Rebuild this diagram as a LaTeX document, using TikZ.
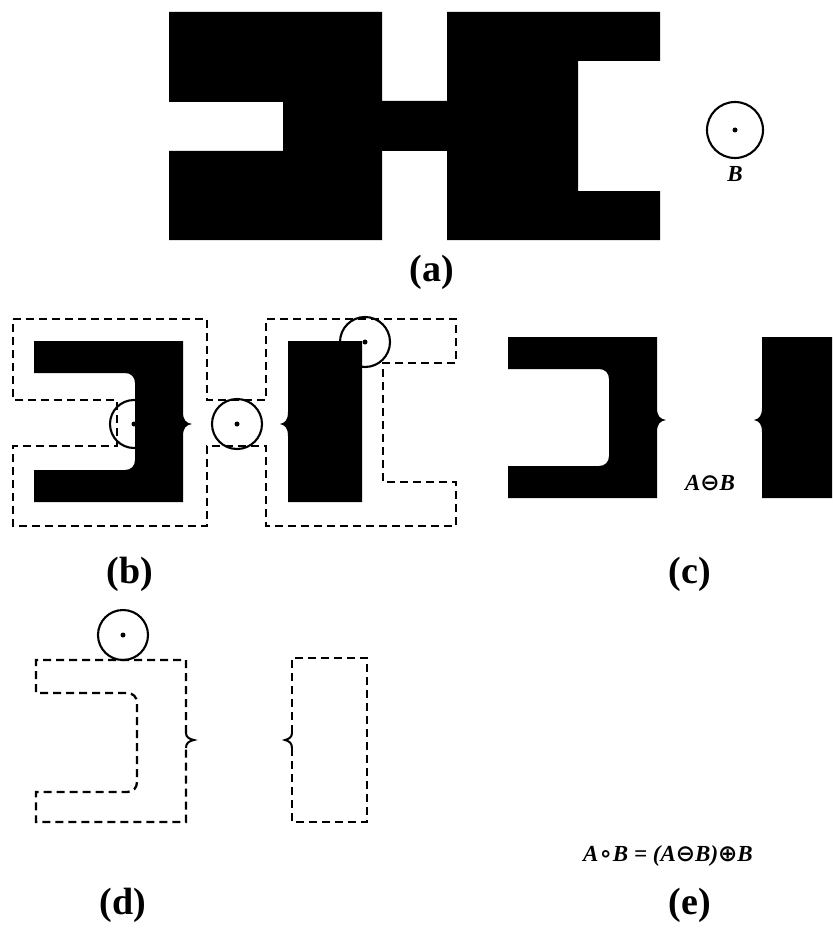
\documentclass[tikz,border=0pt]{standalone}
\usepackage{fontspec}
\setmainfont{Liberation Serif}
\newfontfamily\symf{DejaVu Sans}
\newcommand\erodedA{%
  \fill (34,341) -- (183,341) -- (183,412) .. controls (183,420) and (186,423) .. (192,424)
     .. controls (186,425) and (183,428) .. (183,436) -- (183,502) -- (34,502) -- (34,470)
     -- (125,470) .. controls (131,470) and (135,466) .. (135,460) -- (135,383)
     .. controls (135,377) and (131,373) .. (125,373) -- (34,373) -- cycle;
  \fill (288,341) -- (362,341) -- (362,502) -- (288,502) -- (288,436)
     .. controls (288,428) and (285,425) .. (280,424) .. controls (285,423) and (288,420) .. (288,412) -- cycle;
}
\newcommand\opsym[1]{{\symf\bfseries\upshape #1}}
\begin{document}
\begin{tikzpicture}[x=1pt,y=-1pt,
  dsh/.style={line width=2.3pt, dash pattern=on 8pt off 5pt},
  ring/.style={line width=2.1pt},
  cusp/.style={line width=2pt},
  lbl/.style={font=\fontsize{38}{42}\selectfont\bfseries, inner sep=0pt},
  mth/.style={font=\fontsize{23}{26}\selectfont\bfseries\itshape, inner sep=0pt}]
\useasboundingbox (0,0) rectangle (832,936);
\clip (0,0) rectangle (832,936);
\fill[white] (0,0) rectangle (832,936);

% ---------- (a) ----------
\fill (169,12) -- (382,12) -- (382,101) -- (447,101) -- (447,12) -- (660,12) -- (660,61)
  -- (578,61) -- (578,191) -- (660,191) -- (660,240) -- (447,240) -- (447,151) -- (382,151)
  -- (382,240) -- (169,240) -- (169,151) -- (283,151) -- (283,102) -- (169,102) -- cycle;
\draw[ring] (735,130) circle[radius=28];
\fill (735,130) circle[radius=2.5];
\node[mth] (Blabel) at (735,174) {B};
\node[lbl] (la) at (432,272) {(a)};

% ---------- (b) ----------
\draw[ring] (134,424) circle[radius=24];
\draw[ring] (237,424) circle[radius=25];
\draw[ring] (365,342) circle[radius=25];
\draw[dsh] (13,319) -- (207,319) -- (207,400) -- (266,400) -- (266,319) -- (456,319) -- (456,363)
  -- (383,363) -- (383,482) -- (456,482) -- (456,526) -- (266,526) -- (266,446) -- (207,446)
  -- (207,526) -- (13,526) -- (13,446) -- (117,446) -- (117,400) -- (13,400) -- cycle;
\erodedA
\fill (134,424) circle[radius=2.5];
\fill (237,424) circle[radius=2.5];
\fill (365,342) circle[radius=2.5];
\node[lbl] (lb) at (130,574) {(b)};

% ---------- (c) ----------
\begin{scope}[shift={(474,-4)}]
\erodedA
\end{scope}
\node[mth] (AeB) at (710,483) {A\opsym{⊖}B};
\node[lbl] (lc) at (690,574) {(c)};

% ---------- (d) ----------
\draw[ring] (123,635) circle[radius=25];
\fill (123,635) circle[radius=2.5];
\draw[dsh] (186,733) -- (186,660) -- (36,660) -- (36,693) -- (127,693)
  .. controls (133,693) and (137,697) .. (137,703) -- (137,782)
  .. controls (137,788) and (133,792) .. (127,792) -- (36,792) -- (36,822) -- (186,822) -- (186,748);
\draw[cusp] (186,733) .. controls (186,737) and (189,739) .. (194,740)
  .. controls (189,741) and (186,743) .. (186,748);
\draw[dsh] (292,733) -- (292,658) -- (367,658) -- (367,822) -- (292,822) -- (292,748);
\draw[cusp] (292,733) .. controls (292,737) and (289,739) .. (285,740)
  .. controls (289,741) and (292,743) .. (292,748);
\node[lbl] (ld) at (123,905) {(d)};

% ---------- (e) ----------
\node[mth, anchor=west] (form) at (583,856)
  {A\opsym{∘}B = (A\opsym{⊖}B)\opsym{⊕}B};
\node[lbl] (le) at (690,905) {(e)};
\end{tikzpicture}
\end{document}
